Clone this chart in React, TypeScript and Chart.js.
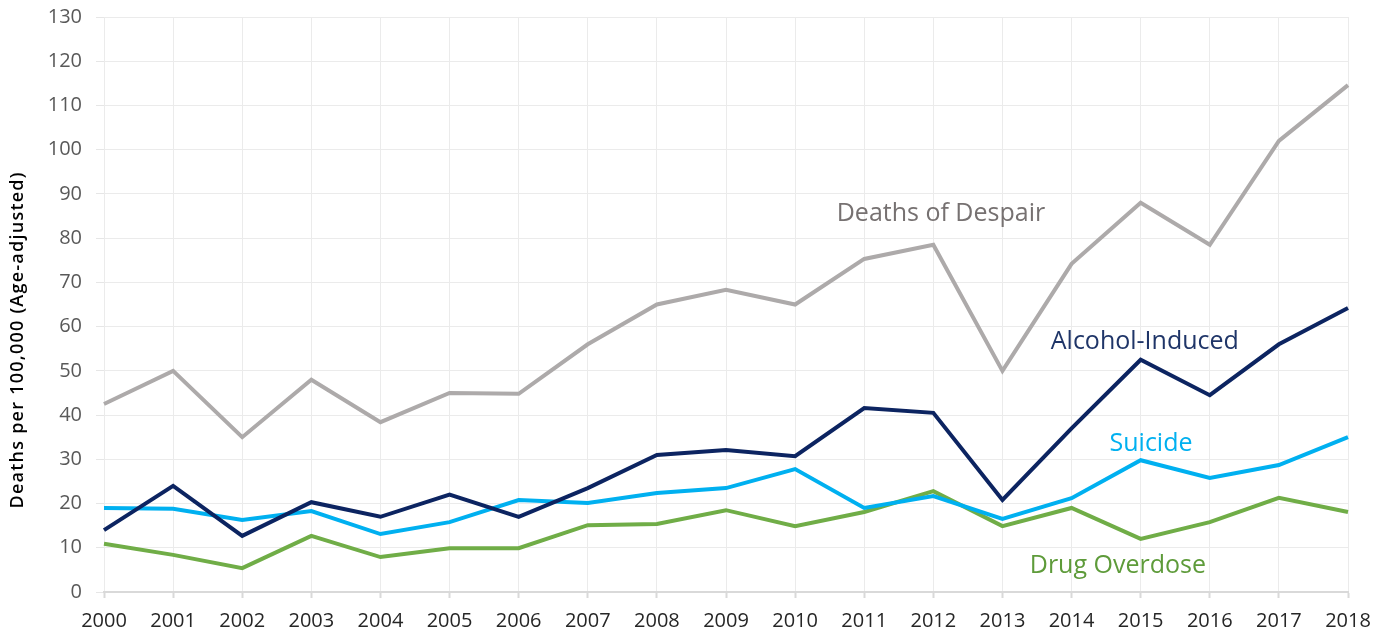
import React, { useEffect, useRef } from "react";
import { Chart, registerables } from "chart.js";

Chart.register(...registerables);

const years = ["2000","2001","2002","2003","2004","2005","2006","2007","2008","2009","2010","2011","2012","2013","2014","2015","2016","2017","2018"];
const despair = [42.5, 50, 35, 48, 38.4, 45, 44.8, 56, 65, 68.3, 65, 75.3, 78.5, 50, 74.2, 88, 78.5, 102, 114.6];
const alcohol = [14, 24, 12.7, 20.3, 17, 22, 17, 23.5, 31, 32.1, 30.7, 41.6, 40.5, 20.8, 37, 52.5, 44.5, 56, 64.2];
const suicide = [19, 18.8, 16.3, 18.3, 13.1, 15.8, 20.8, 20.1, 22.4, 23.5, 27.8, 19, 21.7, 16.5, 21.2, 29.8, 25.8, 28.7, 35];
const overdose = [10.9, 8.4, 5.4, 12.7, 7.9, 9.9, 9.9, 15.1, 15.4, 18.5, 14.9, 18.1, 22.8, 14.9, 19, 12, 15.8, 21.3, 18.1];

const seriesNames = ["Deaths of Despair", "Alcohol-Induced", "Suicide", "Drug Overdose"];
const seriesColors = ["#ADAAAA", "#0C2461", "#00B0F0", "#70AD47"];
const labelColors = ["#767171", "#1F3568", "#00B0F0", "#5E9B3A"];
// label anchors: [category index (center), value]
const labelAnchors: [number, number][] = [
  [12.11, 85.5],
  [15.06, 56.5],
  [15.15, 33.6],
  [14.67, 5.8],
];
const yTitle = "Deaths per 100,000 (Age-adjusted)";

const FONT = "'Open Sans', Lato, sans-serif";

const labelPlugin = {
  id: "seriesLabels",
  afterDatasetsDraw(chart: any) {
    const { ctx, scales, chartArea } = chart;
    const xs = scales.x;
    const ys = scales.y;
    const x0 = xs.getPixelForValue(0);
    const x1 = xs.getPixelForValue(1);
    ctx.save();
    ctx.font = `25px ${FONT}`;
    ctx.textAlign = "center";
    ctx.textBaseline = "middle";
    seriesNames.forEach((name, i) => {
      const [ci, v] = labelAnchors[i];
      const px = x0 + (x1 - x0) * ci;
      const py = ys.getPixelForValue(v);
      ctx.fillStyle = labelColors[i];
      ctx.fillText(name, px, py);
    });
    ctx.restore();

    // y-axis title
    ctx.save();
    ctx.font = `600 18px ${FONT}`;
    const targetLen = 336;
    const w = ctx.measureText(yTitle).width;
    const sp = Math.max(0, (targetLen - w) / (yTitle.length - 1));
    (ctx as any).letterSpacing = `${sp.toFixed(2)}px`;
    ctx.translate(18, (chartArea.top + chartArea.bottom) / 2 + 36);
    ctx.rotate(-Math.PI / 2);
    ctx.fillStyle = "#000000";
    ctx.textAlign = "center";
    ctx.textBaseline = "middle";
    ctx.fillText(yTitle, sp / 2, 0);
    ctx.restore();
  },
};

export default function App() {
  const ref = useRef<HTMLCanvasElement | null>(null);
  useEffect(() => {
    document.body.style.margin = "0";
    if (!ref.current) return;
    const data = [despair, alcohol, suicide, overdose];
    const chart = new Chart(ref.current, {
      type: "line",
      data: {
        labels: years,
        datasets: data.map((d, i) => ({
          label: seriesNames[i],
          data: d,
          borderColor: seriesColors[i],
          backgroundColor: seriesColors[i],
          borderWidth: 4,
          pointRadius: 0,
          tension: 0,
          fill: false,
        })),
      },
      options: {
        animation: false,
        responsive: false,
        maintainAspectRatio: false,
        layout: { padding: { left: 0, right: 40, top: 17, bottom: 0 } },
        plugins: {
          legend: { display: false },
          tooltip: { enabled: false },
        },
        scales: {
          x: {
            offset: false,
            grid: {
              color: "#EBEBEB",
              lineWidth: 1,
              tickColor: "#D9D9D9",
              tickLength: 6,
              tickWidth: 2,
            },
            border: { color: "#D9D9D9", width: 2 },
            ticks: {
              color: "#262626",
              font: { family: FONT, size: 20 },
              padding: 11,
              maxRotation: 0,
              autoSkip: false,
            },
            afterFit: (s: any) => { s.height = 43; },
          },
          y: {
            min: 0,
            max: 130,
            ticks: {
              stepSize: 10,
              color: "#595959",
              font: { family: FONT, size: 20 },
              padding: 14,
            },
            grid: { color: "#EBEBEB", lineWidth: 1, drawTicks: true, tickLength: 8, tickColor: "#E6E6E6" },
            border: { display: false },
            afterFit: (s: any) => {
              s.width = 104;
              s.paddingTop = 0;
              s.paddingBottom = 0;
            },
          },
        },
      },
      plugins: [labelPlugin],
    });
    return () => chart.destroy();
  }, []);
  return (
    <div style={{ width: 1388, height: 635 }}>
      <canvas ref={ref} width={1388} height={635} style={{ display: "block" }} />
    </div>
  );
}
